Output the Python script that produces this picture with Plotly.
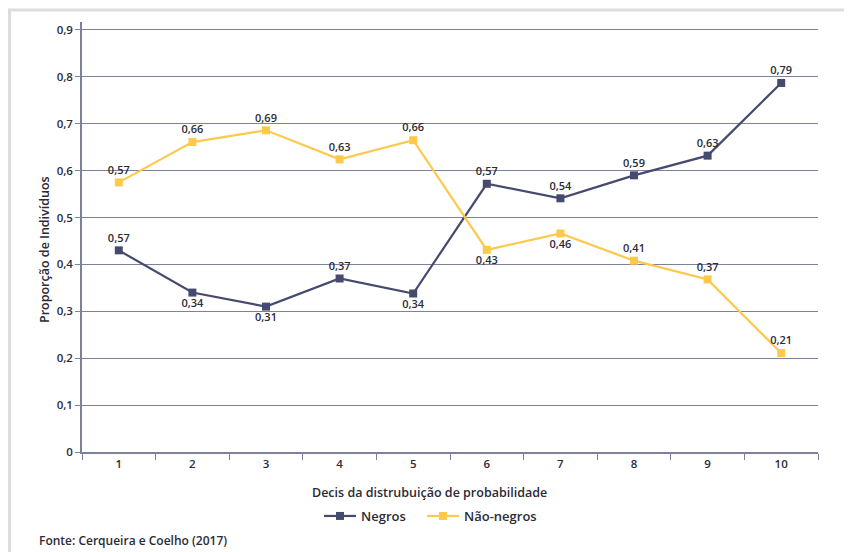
import plotly.graph_objects as go

deciles = ["1", "2", "3", "4", "5", "6", "7", "8", "9", "10"]
negros = [0.43, 0.34, 0.31, 0.37, 0.338, 0.572, 0.541, 0.59, 0.632, 0.787]
negros_labels = ["0,57", "0,34", "0,31", "0,37", "0,34", "0,57", "0,54", "0,59", "0,63", "0,79"]
negros_pos = ["top center", "bottom center", "bottom center", "top center", "bottom center",
              "top center", "top center", "top center", "top center", "top center"]
nao_negros = [0.575, 0.661, 0.686, 0.624, 0.665, 0.431, 0.466, 0.408, 0.368, 0.211]
nao_labels = ["0,57", "0,66", "0,69", "0,63", "0,66", "0,43", "0,46", "0,41", "0,37", "0,21"]
nao_pos = ["top center", "top center", "top center", "top center", "top center",
           "bottom center", "bottom center", "top center", "top center", "top center"]
y_ticks = [0, 0.1, 0.2, 0.3, 0.4, 0.5, 0.6, 0.7, 0.8, 0.9]
y_ticktext = ["0", "0,1", "0,2", "0,3", "0,4", "0,5", "0,6", "0,7", "0,8", "0,9"]

# page body adds an 8px offset; design in reference pixel coordinates
OFF = 8
W, H = 852 - OFF, 552 - OFF
L, R, T, B = 82 - OFF, 34, 22 - OFF, 100
pw, ph = W - L - R, H - T - B

def px(x):
    return (x - OFF - L) / pw

def py(y):
    return (H - B - (y - OFF)) / ph

FONT = "Open Sans"
TXT = "#2b2b36"
NAVY = "#454a6e"
YEL = "#fcc94b"
GRID = "#7d819b"

fig = go.Figure()
fig.add_trace(go.Scatter(
    x=deciles, y=negros, name="Negros", mode="lines+markers+text", legend="legend",
    line=dict(color=NAVY, width=2.2), marker=dict(symbol="square", size=8, color=NAVY),
    text=negros_labels, textposition=negros_pos,
    textfont=dict(family=FONT, size=11, color=TXT, weight=600), cliponaxis=False))
fig.add_trace(go.Scatter(
    x=deciles, y=nao_negros, name="Não-negros", mode="lines+markers+text", legend="legend2",
    line=dict(color=YEL, width=2.2), marker=dict(symbol="square", size=8, color=YEL),
    text=nao_labels, textposition=nao_pos,
    textfont=dict(family=FONT, size=11, color=TXT, weight=600), cliponaxis=False))

leg_font = dict(family=FONT, size=13, color=TXT, weight=600)
fig.update_layout(
    width=W, height=H, margin=dict(l=L, r=R, t=T, b=B),
    paper_bgcolor="white", plot_bgcolor="white",
    font=dict(family=FONT, color=TXT),
    showlegend=True,
    legend=dict(orientation="h", x=px(319), xanchor="left", y=py(516), yanchor="middle",
                font=leg_font, itemwidth=32),
    legend2=dict(orientation="h", x=px(422), xanchor="left", y=py(516), yanchor="middle",
                 font=leg_font, itemwidth=32),
    xaxis=dict(type="category", range=[-0.5, 9.5], showgrid=False, showline=True,
               linecolor=GRID, linewidth=1.5, ticks="outside", tickson="boundaries",
               ticklen=6, tickcolor=GRID, tickfont=dict(family=FONT, size=11.5, color=TXT, weight=600),
               zeroline=False),
    yaxis=dict(range=[0, 0.917], tickvals=y_ticks, ticktext=y_ticktext, showgrid=True,
               gridcolor=GRID, gridwidth=1.2, showline=True, linecolor=GRID, linewidth=1.5,
               ticks="outside", ticklen=5, tickcolor=GRID, zeroline=False,
               tickfont=dict(family=FONT, size=11.5, color=TXT, weight=600)),
    shapes=[
        dict(type="line", xref="paper", yref="paper", x0=px(8), x1=px(852), y0=py(10), y1=py(10),
             line=dict(color="#dddddd", width=3)),
        dict(type="line", xref="paper", yref="paper", x0=px(9.5), x1=px(9.5), y0=py(10), y1=py(552),
             line=dict(color="#dddddd", width=3)),
    ],
    annotations=[
        dict(text="Decis da distrubuição de probabilidade", xref="paper", yref="paper",
             x=px(429), y=py(492), xanchor="center", yanchor="middle", showarrow=False,
             font=dict(family=FONT, size=12.5, color=TXT, weight=600)),
        dict(text="Proporção de Indivíduos", xref="paper", yref="paper",
             x=px(45), y=py(250), xanchor="center", yanchor="middle", showarrow=False,
             textangle=-90, font=dict(family=FONT, size=12.5, color=TXT, weight=600)),
        dict(text="Fonte: Cerqueira e Coelho (2017)", xref="paper", yref="paper",
             x=px(37), y=py(540), xanchor="left", yanchor="middle", showarrow=False,
             font=dict(family=FONT, size=12, color=TXT, weight=600)),
    ],
)

fig.write_html("out.html")
